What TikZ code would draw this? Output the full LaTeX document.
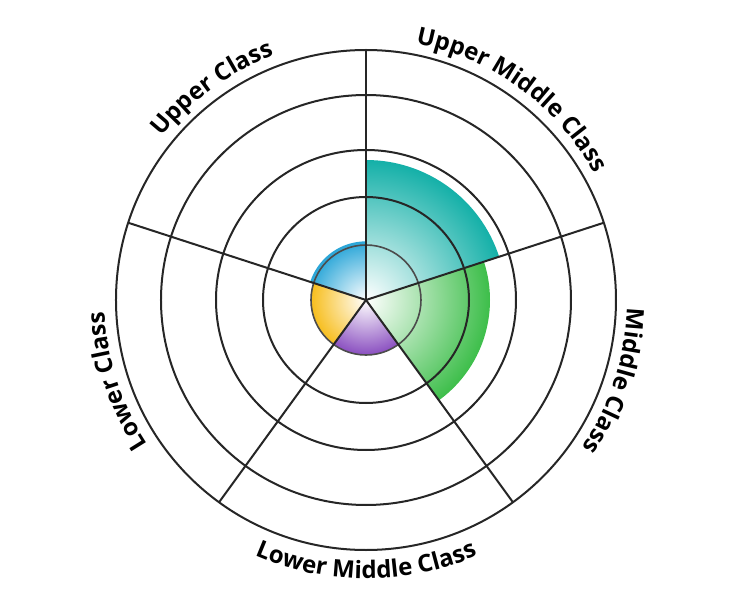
\documentclass[tikz,border=0pt]{standalone}
\usepackage{fontspec}
\setsansfont{Open Sans}
\usetikzlibrary{decorations.text}
\definecolor{cteal}{HTML}{14B0A8}
\definecolor{cgreen}{HTML}{3DBE4A}
\definecolor{cblue}{HTML}{2AA6D8}
\definecolor{cyellow}{HTML}{F7BE1E}
\definecolor{cpurple}{HTML}{8A4FC0}
\newcommand{\lbl}{\sffamily\bfseries\fontsize{18}{20}\selectfont}
\tikzset{ring/.style={draw=black!85, line width=1.5pt},
  lab/.style={decorate, decoration={text along path, text align=center, text={|\lbl|#1}}}}
\begin{document}
\begin{tikzpicture}
\useasboundingbox (-274.5pt,-225pt) rectangle (274.5pt,225pt);
% sectors
\foreach \a/\b/\r/\c in {18/90/105pt/cteal, -54/18/93pt/cgreen, 90/162/44pt/cblue, 162/234/41.25pt/cyellow, 234/306/41.25pt/cpurple}{
  \begin{scope}
    \clip (0,0) -- (\a:\r) arc[start angle=\a, end angle=\b, radius=\r] -- cycle;
    \shade[inner color=white, outer color=\c] (0,0) circle (\r);
  \end{scope}
}
\coordinate (O) at (0,0);
\foreach \r in {187.5pt,153.75pt,112.5pt,77.25pt}{\draw[ring] (O) circle (\r);}
\draw[black!70, line width=1.2pt] (O) circle (41.25pt);
\foreach \a in {90,18,-54,-126,162}{\draw[ring] (O) -- (\a:187.5pt);}
% labels
\path[lab={Upper Class}] (162:196pt) arc[start angle=162, end angle=90, radius=196pt];
\path[lab={Upper Middle Class}] (90:196pt) arc[start angle=90, end angle=18, radius=196pt];
\path[lab={Middle Class}] (18:196pt) arc[start angle=18, end angle=-54, radius=196pt];
\path[lab={Lower Middle Class}] (-126:209pt) arc[start angle=-126, end angle=-54, radius=209pt];
\path[lab={Lower Class}] (234:196pt) arc[start angle=234, end angle=162, radius=196pt];
\end{tikzpicture}
\end{document}
